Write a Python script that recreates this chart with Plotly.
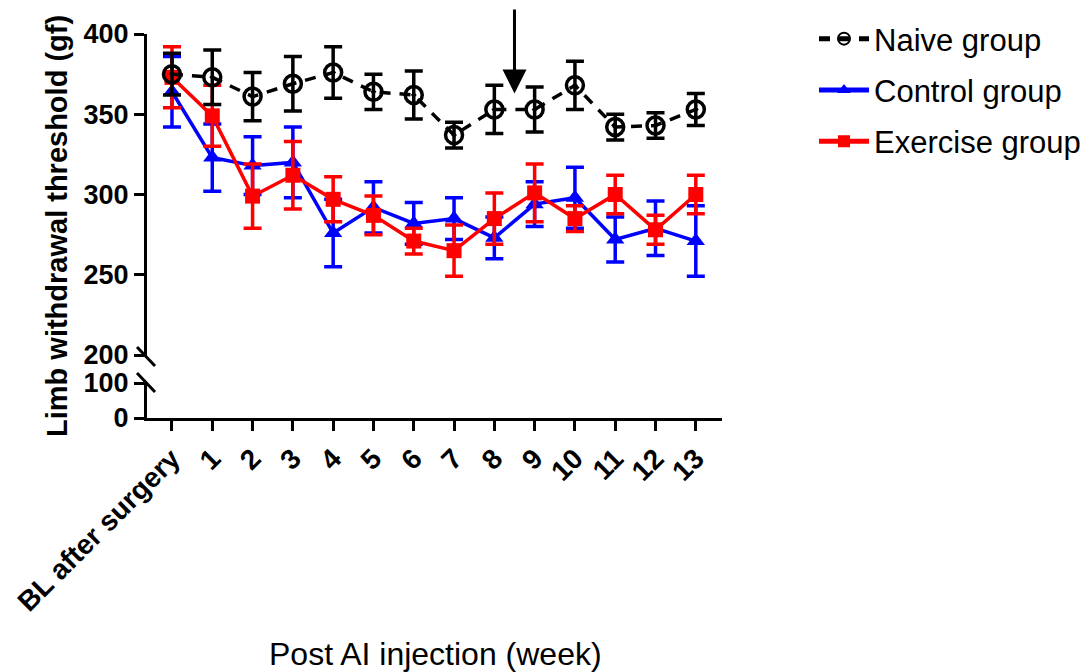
import plotly.graph_objects as go

weeks = ["BL after surgery", "1", "2", "3", "4", "5", "6", "7", "8", "9", "10", "11", "12", "13"]
naive_mean = [375, 373, 361, 369, 376, 364, 362, 337, 353, 353, 368, 342, 343, 353]
naive_err = [13, 17, 15, 17, 16, 11, 15, 8, 15, 14, 15, 8, 8, 10]
control_mean = [364, 323, 318, 320, 276, 292, 282, 285, 273, 294, 298, 272, 279, 271]
control_err = [22, 21, 18, 22, 21, 16, 13, 13, 13, 14, 19, 14, 17, 22]
exercise_mean = [373, 349, 299, 312, 297, 287, 271, 265, 285, 301, 285, 300, 278, 300]
exercise_err = [19, 19, 20, 21, 14, 12, 8, 16, 16, 18, 8, 12, 9, 12]
upper_ticks = [200, 250, 300, 350, 400]
lower_ticks = [0, 100]

FONT = "Liberation Sans, Arial, sans-serif"
xpos = list(range(len(weeks)))

OFF = 8  # page body margin
W, H = 1089 - OFF, 672 - OFF
# plot area in reference-page pixels: x 147..722, y 34..418
L, T = 147 - OFF, 34 - OFF
R = W - (722 - OFF)
B = H - (418 - OFF)
PW, PH = W - L - R, H - T - B


def px2paper(px, py):
    # reference-page pixels -> paper coordinates
    return (px - OFF - L) / PW, (H - B - (py - OFF)) / PH


fig = go.Figure()

fig.add_trace(go.Scatter(
    x=xpos, y=control_mean, name="Control group", mode="lines+markers",
    line=dict(color="#0000ff", width=3.5),
    marker=dict(symbol="triangle-up", size=16, color="#0000ff"),
    error_y=dict(type="data", array=control_err, color="#0000ff", thickness=3.5, width=9),
    legendrank=2, legendgroup="c",
))
fig.add_trace(go.Scatter(
    x=xpos, y=exercise_mean, name="Exercise group", mode="lines+markers",
    line=dict(color="#ff0000", width=3.5),
    marker=dict(symbol="square", size=15, color="#ff0000"),
    error_y=dict(type="data", array=exercise_err, color="#ff0000", thickness=3.5, width=9),
    legendrank=3, legendgroup="e",
))
fig.add_trace(go.Scatter(
    x=xpos, y=naive_mean, name="Naive group", mode="lines+markers",
    line=dict(color="black", width=3.5, dash="11px,9px"),
    marker=dict(symbol="circle-open-dot", size=17, color="black", line=dict(width=3.5, color="black")),
    error_y=dict(type="data", array=naive_err, color="black", thickness=3.5, width=9),
    legendrank=1, legendgroup="n",
))
# dummy trace so the lower (broken) axis segment is drawn
fig.add_trace(go.Scatter(x=[None], y=[None], xaxis="x", yaxis="y2", showlegend=False, hoverinfo="skip"))

axis_common = dict(
    showline=True, linewidth=3, linecolor="black", ticks="outside", ticklen=10,
    tickwidth=3, tickcolor="black", showgrid=False, zeroline=False,
)

fig.update_layout(
    width=W, height=H,
    margin=dict(l=L, r=R, t=T, b=B, autoexpand=False),
    paper_bgcolor="white", plot_bgcolor="white",
    font=dict(family=FONT, color="black"),
    xaxis=dict(
        **axis_common, anchor="y2", range=[-0.62, 13.65],
        tickmode="array", tickvals=xpos, ticktext=weeks, tickangle=-45,
        tickfont=dict(size=28, family=FONT, weight="bold"),
    ),
    yaxis=dict(
        **axis_common, domain=[px2paper(0, 355)[1], 1], range=[200, 400],
        tickmode="array", tickvals=upper_ticks, anchor="x",
        tickfont=dict(size=27, family=FONT, weight="bold"),
    ),
    yaxis2=dict(
        **axis_common, domain=[0, px2paper(0, 383)[1]], range=[0, 100],
        tickmode="array", tickvals=lower_ticks, anchor="x",
        tickfont=dict(size=27, family=FONT, weight="bold"),
    ),
    legend=dict(
        x=px2paper(814, 0)[0], y=px2paper(0, 12)[1], xanchor="left", yanchor="top",
        font=dict(size=31, family=FONT), bgcolor="rgba(0,0,0,0)",
        tracegroupgap=8, itemsizing="constant", itemwidth=50,
    ),
    showlegend=True,
)

# axis titles
fig.add_annotation(
    text="<b>Limb withdrawal threshold (gf)</b>", xref="paper", yref="paper",
    x=px2paper(57, 0)[0], y=px2paper(0, 226)[1], xanchor="center", yanchor="middle",
    textangle=-90, showarrow=False, font=dict(size=29, family=FONT),
)
fig.add_annotation(
    text="Post AI injection (week)", xref="paper", yref="paper",
    x=px2paper(435, 0)[0], y=px2paper(0, 654)[1], xanchor="center", yanchor="middle",
    showarrow=False, font=dict(size=32, family=FONT),
)

# arrow
fig.add_annotation(
    x=8.5, y=363, xref="x", yref="y", ax=0, ay=-88, text="",
    showarrow=True, arrowhead=2, arrowsize=1.6, arrowwidth=3, arrowcolor="black",
)

# axis break marks
for (x0, y0, x1, y1) in [(137, 347, 155, 366), (137, 373, 155, 392)]:
    a = px2paper(x0, y0)
    b = px2paper(x1, y1)
    fig.add_shape(type="line", xref="paper", yref="paper", x0=a[0], y0=a[1], x1=b[0], y1=b[1],
                  line=dict(color="black", width=3), layer="above")

fig.write_html("out.html")
